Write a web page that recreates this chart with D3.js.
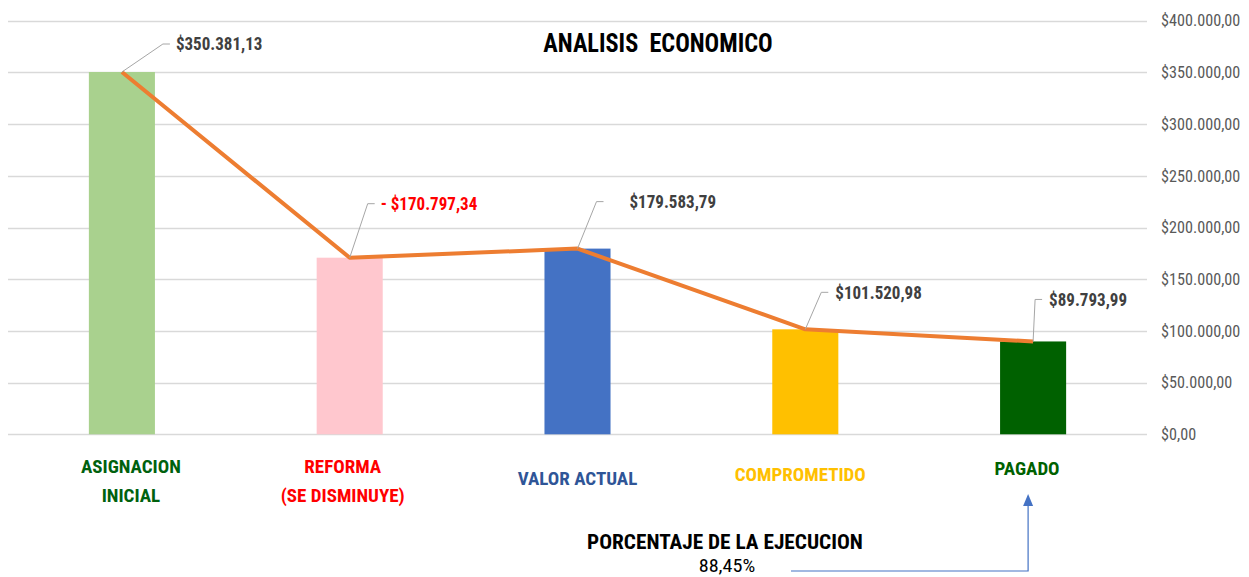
<!DOCTYPE html>
<html>
<head>
<meta charset="utf-8">
<script src="https://cdn.jsdelivr.net/npm/d3@7"></script>
<style>
  body { margin: 0; background: #fff; }
  text { font-family: "Liberation Sans Narrow", "Roboto Condensed", "Liberation Sans", sans-serif; }
</style>
</head>
<body>
<div id="chart"></div>
<script>
// data
var categories = ['ASIGNACION|INICIAL', 'REFORMA|(SE DISMINUYE)', 'VALOR ACTUAL', 'COMPROMETIDO', 'PAGADO'];
var values = [350381.13, 170797.34, 179583.79, 101520.98, 89793.99];
var signs = ['', '- ', '', '', ''];
var barColors = ['#A9D18E', '#FFC7CE', '#4472C4', '#FFC000', '#006100'];
var catColors = ['#00610E', '#FF0000', '#2F5597', '#FFC000', '#006100'];
var yTicks = [0, 50000, 100000, 150000, 200000, 250000, 300000, 350000, 400000];

// label placement (hand-placed boxes in the original)
var labelOffsets = [[41, -28, 54], [18, -54, 31], [19, -47, 52], [16, -37, 30], [2, -42, 16]];
var catShift = [[9, 473], [-7, 473], [0, 485], [-5, 481], [-6, 475]];

var width = 1249, height = 577;

var es = d3.formatLocale({decimal: ',', thousands: '.', grouping: [3], currency: ['$', '']});
var money = es.format('$,.2f');
var pct = es.format('.2%');

// squeeze text horizontally, like the narrow font of the original
function squeeze(sel, k) {
  sel.each(function() {
    var w = this.getComputedTextLength();
    d3.select(this).attr('textLength', w * k).attr('lengthAdjust', 'spacingAndGlyphs');
  });
}

var svg = d3.select('#chart').append('svg')
  .attr('width', width)
  .attr('height', height);

var x = d3.scaleBand()
  .domain(categories)
  .range([8, 1147])
  .paddingInner(0.71)
  .paddingOuter(0.355);

var y = d3.scaleLinear()
  .domain([0, 400000])
  .range([434.3, 20.7]);

// gridlines
svg.append('g')
  .selectAll('line')
  .data(yTicks)
  .enter().append('line')
  .attr('x1', 8).attr('x2', 1147)
  .attr('y1', function(d) { return Math.round(y(d)) + 0.5; })
  .attr('y2', function(d) { return Math.round(y(d)) + 0.5; })
  .attr('stroke', '#d9d9d9')
  .attr('stroke-width', 1.3);

// right axis labels
var yAxis = d3.axisRight(y).tickValues(yTicks).tickFormat(money).tickSize(0).tickPadding(14);
var ax = svg.append('g').attr('transform', 'translate(1147,0)').call(yAxis);
ax.select('.domain').remove();
ax.selectAll('text')
  .attr('fill', '#595959')
  .style('font-family', '"Liberation Sans Narrow", "Roboto Condensed", sans-serif')
  .style('font-size', '16.5px');
squeeze(ax.selectAll('text'), 0.98);

// title
svg.append('text')
  .attr('x', 658).attr('y', 52)
  .attr('text-anchor', 'middle')
  .attr('font-size', '25px')
  .attr('font-weight', 'bold')
  .attr('fill', '#000')
  .attr('xml:space', 'preserve')
  .text('ANALISIS  ECONOMICO')
  .call(squeeze, 0.97);

// bars
svg.append('g')
  .selectAll('rect')
  .data(values)
  .enter().append('rect')
  .attr('x', function(d, i) { return x(categories[i]); })
  .attr('y', function(d) { return y(d); })
  .attr('width', x.bandwidth())
  .attr('height', function(d) { return y(0) - y(d); })
  .attr('fill', function(d, i) { return barColors[i]; });

// line through bar tops
var line = d3.line()
  .x(function(d, i) { return x(categories[i]) + x.bandwidth() / 2; })
  .y(function(d) { return y(d); });

svg.append('path')
  .datum(values)
  .attr('d', line)
  .attr('fill', 'none')
  .attr('stroke', '#ED7D31')
  .attr('stroke-width', 4)
  .attr('stroke-linejoin', 'round');

// data labels with leader lines
var lbl = svg.append('g').selectAll('g')
  .data(values)
  .enter().append('g')
  .attr('transform', function(d, i) {
    return 'translate(' + (x(categories[i]) + x.bandwidth() / 2) + ',' + y(d) + ')';
  });

lbl.append('polyline')
  .attr('points', function(d, i) {
    var o = labelOffsets[i];
    return '0,0 ' + o[0] + ',' + o[1] + ' ' + (o[0] + 7) + ',' + o[1];
  })
  .attr('fill', 'none')
  .attr('stroke', '#a6a6a6')
  .attr('stroke-width', 1);

var lt = lbl.append('text')
  .attr('x', function(d, i) { return labelOffsets[i][2]; })
  .attr('y', function(d, i) { return labelOffsets[i][1]; })
  .attr('dy', '0.35em')
  .attr('font-size', '18.5px')
  .attr('font-weight', 'bold')
  .attr('fill', function(d, i) { return signs[i] ? '#FF0000' : '#404040'; })
  .attr('xml:space', 'preserve')
  .text(function(d, i) { return signs[i] + money(d); });
squeeze(lt, 0.92);

// category labels
var cat = svg.append('g').selectAll('text')
  .data(categories)
  .enter().append('text')
  .attr('x', function(d, i) { return x(d) + x.bandwidth() / 2 + catShift[i][0]; })
  .attr('y', function(d, i) { return catShift[i][1]; })
  .attr('text-anchor', 'middle')
  .attr('font-size', '19px')
  .attr('font-weight', 'bold')
  .attr('fill', function(d, i) { return catColors[i]; });

cat.selectAll('tspan')
  .data(function(d) { return d.split('|'); })
  .enter().append('tspan')
  .attr('x', function() { return this.parentNode.getAttribute('x'); })
  .attr('dy', function(d, i) { return i ? 29 : 0; })
  .text(function(d) { return d; });

// execution percentage note
var pagadoX = x(categories[4]) + x.bandwidth() / 2;
svg.append('text')
  .attr('x', 725).attr('y', 549)
  .attr('text-anchor', 'middle')
  .attr('font-size', '20px')
  .attr('font-weight', 'bold')
  .attr('fill', '#000')
  .text('PORCENTAJE DE LA EJECUCION')
  .call(squeeze, 1.065);

svg.append('text')
  .attr('x', 727).attr('y', 572)
  .attr('text-anchor', 'middle')
  .attr('font-size', '18px')
  .attr('fill', '#000')
  .text(pct(values[4] / values[3]))
  .call(squeeze, 1.12);

svg.append('polyline')
  .attr('points', '791,571 ' + (pagadoX - 5) + ',571 ' + (pagadoX - 5) + ',505')
  .attr('fill', 'none')
  .attr('stroke', '#4472C4')
  .attr('stroke-width', 1.2);

svg.append('path')
  .attr('d', 'M' + (pagadoX - 10) + ',506 L' + (pagadoX) + ',506 L' + (pagadoX - 5) + ',494 Z')
  .attr('fill', '#4472C4');
</script>
</body>
</html>
